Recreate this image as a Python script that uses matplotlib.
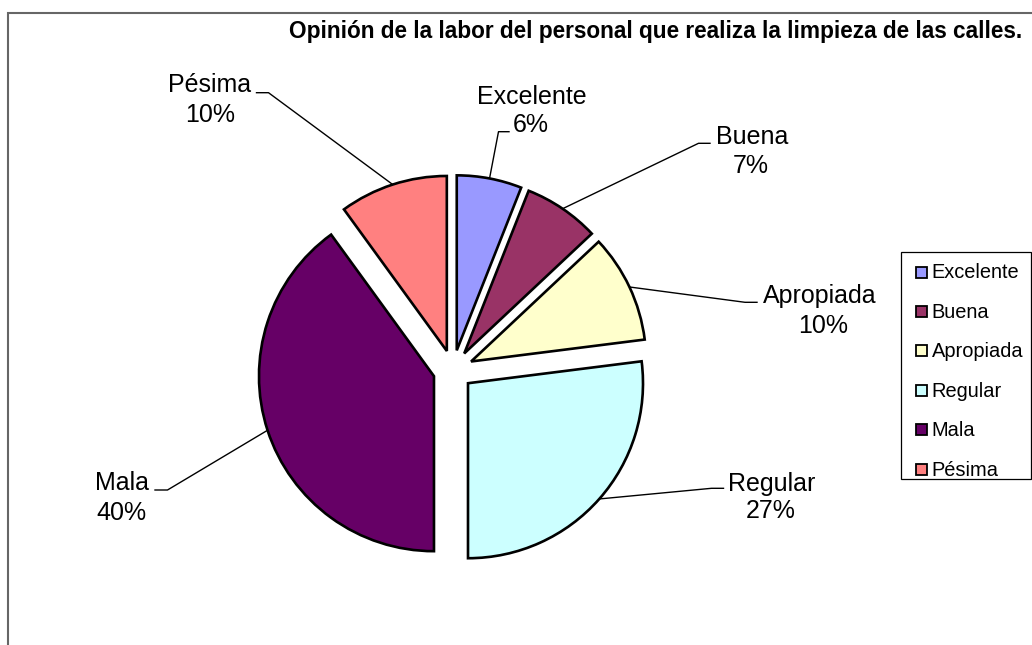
import numpy as np
import matplotlib
matplotlib.use("Agg")
import matplotlib.pyplot as plt
from matplotlib.patches import Rectangle
from matplotlib.lines import Line2D

# ---- data ----
categories = ["Excelente", "Buena", "Apropiada", "Regular", "Mala", "Pésima"]
percentages = [6, 7, 10, 27, 40, 10]
colors = ["#9999FF", "#993366", "#FFFFCC", "#CCFFFF", "#660066", "#FF8080"]
title = "Opinión de la labor del personal que realiza la limpieza de las calles."

# ---- layout (image pixel coordinates, y downwards) ----
W, H = 1032, 645
FONT = "Liberation Sans"
plt.rcParams['font.family'] = [FONT, 'DejaVu Sans']

fig = plt.figure(figsize=(W / 100, H / 100), dpi=100)
ax = fig.add_axes([0, 0, 1, 1])

def Y(y):
    return H - y

pie_center = (453, Y(370))
pie_radius = 175
explode_px = 20

wedges, _ = ax.pie(percentages, colors=colors, startangle=90, counterclock=False,
                   center=pie_center, radius=pie_radius,
                   explode=[explode_px] * len(percentages),
                   wedgeprops=dict(edgecolor="black", linewidth=1.9),
                   normalize=True)
ax.set_xlim(0, W)
ax.set_ylim(0, H)
ax.set_aspect('auto')
ax.axis('off')

# label placement: (name x, name baseline, pct x, pct baseline, text-end point, elbow point)
label_layout = {
    "Excelente": (532, 103.5, 531, 132.5, (509, 131.7), (498.5, 131.7)),
    "Buena":     (752, 143.5, 751, 173.0, (710, 143.3), (698.5, 143.3)),
    "Apropiada": (820, 303.5, 823, 333.0, (757, 302.3), (745, 302.3)),
    "Regular":   (772, 490.5, 771, 518.5, (723.5, 488.3), (711.5, 488.3)),
    "Mala":      (122, 490.5, 121, 519.5, (155, 490), (167.5, 490)),
    "Pésima":    (210, 92.0, 210, 122.5, (256.5, 92.7), (268.5, 92.7)),
}

for w, cat, pct in zip(wedges, categories, percentages):
    nx, ny, px, py, p_end, p_elb = label_layout[cat]
    ax.text(nx, Y(ny), cat, ha="center", va="baseline", fontsize=18, color="black")
    ax.text(px, Y(py), f"{pct}%", ha="center", va="baseline", fontsize=18, color="black")
    mid = np.deg2rad((w.theta1 + w.theta2) / 2)
    cx, cy = w.center
    arc_pt = (cx + w.r * np.cos(mid), cy + w.r * np.sin(mid))
    xs = [p_end[0], p_elb[0], arc_pt[0]]
    ys = [Y(p_end[1]), Y(p_elb[1]), arc_pt[1]]
    ax.add_line(Line2D(xs, ys, color="black", linewidth=1.0, zorder=0.5))

# title
ax.text(1022, Y(38), title, ha="right", va="baseline", fontsize=16.3,
        fontweight="bold", color="black")

# chart frame
ax.add_line(Line2D([7.5, 7.5, W + 5], [Y(H + 5), Y(12.7), Y(12.7)],
                   color="#666666", linewidth=1.5, solid_joinstyle="miter"))

# legend
leg_left, leg_top, leg_right, leg_bottom = 901, 252, 1031, 479
ax.add_patch(Rectangle((leg_left, Y(leg_bottom)), leg_right - leg_left, leg_bottom - leg_top,
                       facecolor="white", edgecolor="black", linewidth=0.9))
row0, row_step = 278.5, 39.4
for i, (cat, col) in enumerate(zip(categories, colors)):
    base = row0 + i * row_step
    ax.add_patch(Rectangle((916, Y(base - 1)), 11, 11, facecolor=col,
                           edgecolor="black", linewidth=1.3))
    ax.text(931.5, Y(base), cat, ha="left", va="baseline", fontsize=14.4, color="black")

fig.savefig("out.png", dpi=100)
